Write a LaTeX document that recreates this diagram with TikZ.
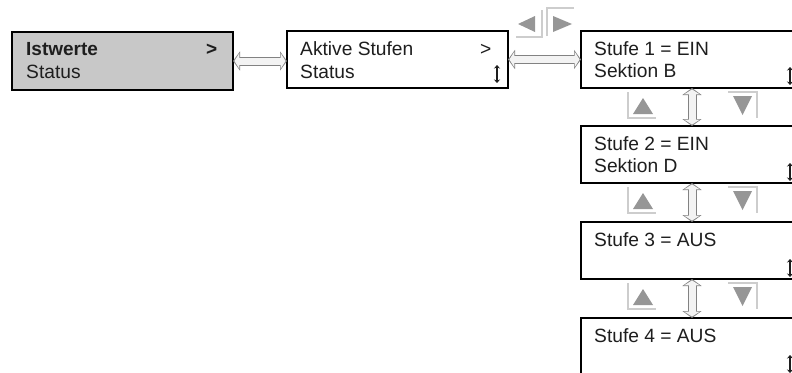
\documentclass[tikz,border=0pt]{standalone}
\usepackage{fontspec}
\setmainfont{Liberation Sans}
\usetikzlibrary{arrows.meta}
\definecolor{boxgray}{RGB}{200,200,200}
\definecolor{txtcol}{RGB}{30,30,30}
\definecolor{btncol}{RGB}{150,150,150}
\definecolor{btnline}{RGB}{205,205,205}
\definecolor{linkcol}{RGB}{130,130,130}
\definecolor{linkfill}{RGB}{243,243,243}
\begin{document}
\begin{tikzpicture}[x=1pt,y=-1pt,
  screen/.style={draw=black, line width=1.8pt, minimum width=221pt, minimum height=57pt,
    anchor=north west, inner sep=0pt, outer sep=0pt},
  txt/.style={anchor=base west, inner sep=0pt, font=\fontsize{19.2}{22}\selectfont, text=txtcol},
  bold/.style={font=\bfseries\fontsize{19}{22}\selectfont},
  link/.style={draw=linkcol, line width=9pt,
    {Triangle[length=7pt,width=19pt]}-{Triangle[length=7pt,width=19pt]},
    postaction={draw=linkfill, line width=7pt,
      {Triangle[length=5pt,width=15.5pt]}-{Triangle[length=5pt,width=15.5pt]},
      shorten >=1.4pt, shorten <=1.4pt}},
  updown/.style={draw=txtcol, line width=1.5pt,
    {Stealth[length=3.5pt,width=6pt]}-{Stealth[length=3.5pt,width=6pt]}},
  btn/.style={fill=btncol},
  btnedge/.style={draw=btnline, line width=1.4pt}
]
\useasboundingbox (0,0) rectangle (792,372);
\clip (0,0) rectangle (792,372);

% screens
\node[screen, fill=boxgray, minimum height=58pt] (b1) at (12,32) {};
\node[screen, fill=white] (b2) at (287,31) {};
\node[screen, fill=white, minimum width=222pt] (s1) at (581,31) {};
\node[screen, fill=white, minimum width=222pt] (s2) at (581,126) {};
\node[screen, fill=white, minimum width=222pt] (s3) at (581,222) {};
\node[screen, fill=white, minimum width=222pt] (s4) at (581,318) {};

% texts
\node[txt, bold] (t1a) at (26,55) {Istwerte};
\node[txt, bold] (t1b) at (206,55) {>};
\node[txt] (t1c) at (26,78) {Status};

\node[txt] (t2a) at (300,55) {Aktive Stufen};
\node[txt] (t2b) at (480,55) {>};
\node[txt] (t2c) at (300,78) {Status};

\node[txt] (t3a) at (594,55) {Stufe 1 = EIN};
\node[txt] (t3b) at (594,77) {Sektion B};
\node[txt] (t4a) at (594,150) {Stufe 2 = EIN};
\node[txt] (t4b) at (594,172) {Sektion D};
\node[txt] (t5a) at (594,246) {Stufe 3 = AUS};
\node[txt] (t6a) at (594,342) {Stufe 4 = AUS};

% scroll marks
\draw[updown] (497,65) -- (497,83);
\draw[updown] (790,67) -- (790,85);
\draw[updown] (790,163) -- (790,181);
\draw[updown] (790,259) -- (790,277);
\draw[updown] (790,355) -- (790,373);

% horizontal links
\draw[link] (b1.east) -- (b1.east -| b2.west);
\draw[link] (b2.east) -- (b2.east -| s1.west);

% vertical links
\coordinate (vx) at (692,0);
\draw[link] (s1.south -| vx) -- (s2.north -| vx);
\draw[link] (s2.south -| vx) -- (s3.north -| vx);
\draw[link] (s3.south -| vx) -- (s4.north -| vx);

% left / right buttons on top
\draw[btnedge] (516,37) -- (542,37) -- (542,10);
\fill[btn] (518,24) -- (535,16) -- (535,32) -- cycle;
\draw[btnedge] (547,36) -- (547,8) -- (574,8);
\fill[btn] (572,24) -- (553,16) -- (553,32) -- cycle;

% up / down buttons
\foreach \dy in {0,95,191}{
  \begin{scope}[yshift=-\dy pt]
    \draw[btnedge] (628,92) -- (628,118) -- (656,118);
    \fill[btn] (643,98) -- (653,114) -- (633,114) -- cycle;
    \draw[btnedge] (728,92) -- (757,92) -- (757,118);
    \fill[btn] (733,96) -- (752,96) -- (742.5,115) -- cycle;
  \end{scope}
}
\end{tikzpicture}
\end{document}
